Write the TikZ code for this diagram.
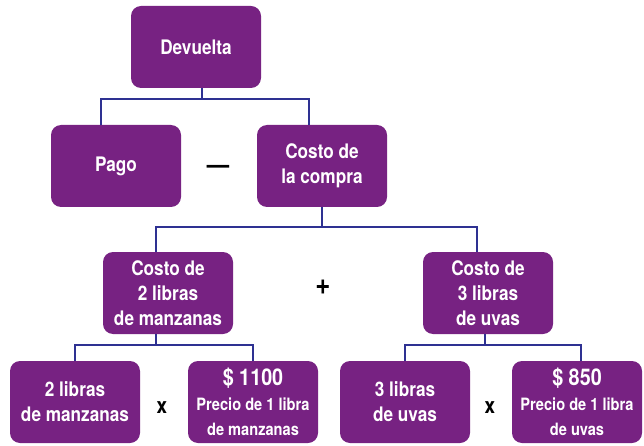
\documentclass[tikz,border=0pt]{standalone}
\usepackage{fontspec}
\setmainfont{TeX Gyre Heros}[FakeStretch=0.86]
\usetikzlibrary{positioning}
\definecolor{mapPurple}{HTML}{772282}
\definecolor{mapBlue}{HTML}{2E3192}
\newcommand{\bigtxt}{\fontsize{23}{26}\selectfont}
\newcommand{\smalltxt}{\fontsize{17}{19}\selectfont}
\tikzset{
  concept/.style={fill=mapPurple, draw=none, rounded corners=10pt,
        minimum width=130pt, minimum height=82pt, align=center, inner sep=2pt,
        text=white, font=\fontsize{20}{25}\selectfont\bfseries},
  oper/.style={text=black, font=\fontsize{22}{24}\selectfont\bfseries, inner sep=0pt},
  link/.style={draw=mapBlue, line width=1.9pt}
}

\begin{document}
\begin{tikzpicture}[x=1pt, y=-1pt]
\useasboundingbox (0,0) rectangle (644,446);

\node[concept] (dev) at (196,47) {Devuelta};

\node[concept] (pago) at (116,166) {Pago};
\node[concept] (compra) at (322,166) {Costo de\\ la compra};

\node[concept] (manz) at (168,293) {Costo de\\ 2 libras\\ de manzanas};
\node[concept] (uvas) at (488,293) {Costo de\\ 3 libras\\ de uvas};

\node[concept] (qmanz) at (75,402) {2 libras\\ de manzanas};
\node[concept] (pmanz) at (253,402) {\bigtxt \$ 1100\\ \smalltxt Precio de 1 libra\\ \smalltxt de manzanas};
\node[concept] (quvas) at (405,402) {3 libras\\ de uvas};
\node[concept] (puvas) at (577,402) {\bigtxt \$ 850\\ \smalltxt Precio de 1 libra\\ \smalltxt de uvas};

\node[oper, font=\fontsize{26}{26}\selectfont\bfseries] (menos) at (218,169) {—};
\node[oper, font=\fontsize{30}{30}\selectfont\bfseries] (mas) at (323,287) {+};
\node[oper] (por1) at (162,408) {x};
\node[oper] (por2) at (490,408) {x};

\draw[link] ([xshift=6pt]dev.south) -- ++(0,11) -| ([xshift=-15pt]pago.north);
\draw[link] ([xshift=6pt]dev.south) -- ++(0,11) -| ([xshift=-13pt]compra.north);
\draw[link] (compra.south) -- ++(0,20) -| ([xshift=-12pt]manz.north);
\draw[link] (compra.south) -- ++(0,20) -| ([xshift=-11pt]uvas.north);
\draw[link] ([xshift=-12pt]manz.south) -- ++(0,11) -| (qmanz.north);
\draw[link] ([xshift=-12pt]manz.south) -- ++(0,11) -| (pmanz.north);
\draw[link] ([xshift=-3pt]uvas.south) -- ++(0,11) -| (quvas.north);
\draw[link] ([xshift=-3pt]uvas.south) -- ++(0,11) -| ([xshift=4pt]puvas.north);
\end{tikzpicture}
\end{document}
